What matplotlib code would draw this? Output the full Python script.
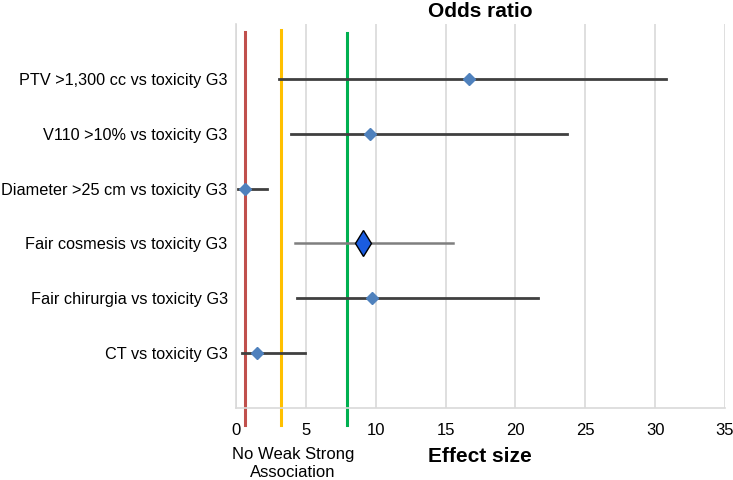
import matplotlib
matplotlib.use("Agg")
import matplotlib.pyplot as plt

plt.rcParams['font.family'] = ['Liberation Sans', 'DejaVu Sans']

labels = ['PTV >1,300 cc vs toxicity G3', 'V110 >10% vs toxicity G3',
          'Diameter >25 cm vs toxicity G3', 'Fair cosmesis vs toxicity G3',
          'Fair chirurgia vs toxicity G3', 'CT vs toxicity G3']
odds = [16.7, 9.6, 0.65, 9.1, 9.75, 1.5]
lower = [3.1, 3.9, 0.15, 4.2, 4.4, 0.4]
upper = [30.8, 23.7, 2.2, 15.5, 21.65, 4.95]

# thresholds: no / weak / strong association
thresholds = [0.62, 3.2, 7.92]
threshold_colors = ['#C0504D', '#FFC000', '#00B050']
threshold_tops = [6.85, 6.89, 6.84]

ypos = list(range(len(labels), 0, -1))

fig = plt.figure(figsize=(7.33, 4.8), dpi=100)
ax = fig.add_axes([0.322, 0.15, 0.667, 0.80])

for x, c, top in zip(thresholds, threshold_colors, threshold_tops):
    ax.plot([x, x], [-0.31, top], color=c, lw=2.2, clip_on=False, zorder=2)

for i, (y, o, lo, hi) in enumerate(zip(ypos, odds, lower, upper)):
    if labels[i].startswith('Fair cosmesis'):
        ax.plot([lo, hi], [y, y], color='#7f7f7f', lw=1.8, zorder=3)
        ax.plot(o, y, marker='d', markersize=13, color='#1a5ce0',
                markeredgecolor='black', markeredgewidth=1.0, zorder=4)
    else:
        ax.plot([lo, hi], [y, y], color='#404040', lw=2.0, zorder=3)
        ax.plot(o, y, marker='D', markersize=6.5, color='#4F81BD',
                markeredgecolor='#4F81BD', zorder=4)

ax.set_xlim(0, 35)
ax.set_ylim(0, 7)
ax.set_xticks(range(0, 36, 5))
ax.set_yticks(ypos)
ax.set_yticklabels(labels, fontsize=11.7)
ax.tick_params(axis='x', labelsize=12, length=0, pad=11)
ax.tick_params(axis='y', length=0, pad=6)
ax.grid(axis='x', color='#d9d9d9', lw=1.2, zorder=0)
ax.set_axisbelow(True)
for s in ['top', 'right']:
    ax.spines[s].set_visible(False)
for s in ['left', 'bottom']:
    ax.spines[s].set_color('#d9d9d9')
    ax.spines[s].set_linewidth(1.2)

ax.set_title('Odds ratio', fontsize=15, fontweight='bold', pad=5)
fig.text(0.655, 0.050, 'Effect size', fontsize=15, fontweight='bold',
         ha='center', va='center')
fig.text(0.40, 0.054, 'No Weak Strong', fontsize=12, ha='center', va='center')
fig.text(0.40, 0.016, 'Association', fontsize=12, ha='center', va='center')

fig.savefig('out.png', dpi=100)
